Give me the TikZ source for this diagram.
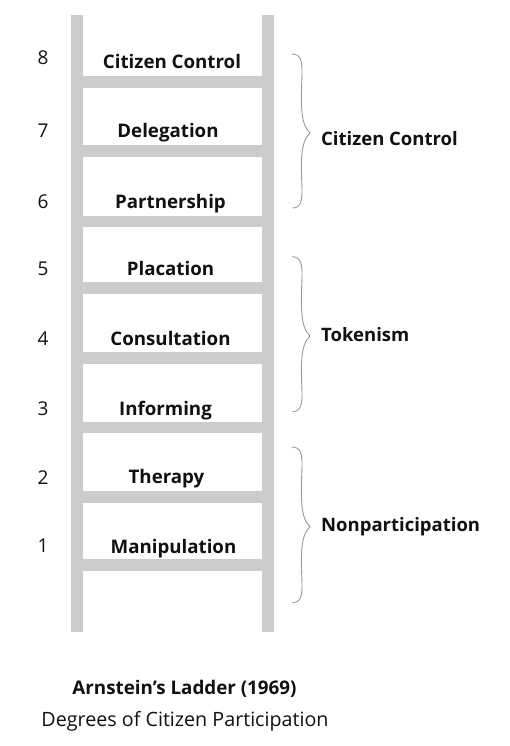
\documentclass[tikz,border=0pt]{standalone}
\usepackage{fontspec}
\setmainfont{Open Sans}
\definecolor{railgray}{HTML}{CCCCCC}
\definecolor{bracegray}{HTML}{9A9A9A}
\definecolor{textblack}{HTML}{111111}
\begin{document}
\begin{tikzpicture}[x=1pt,y=-1pt,
  rail/.style={fill=railgray, draw=none},
  steplabel/.style={anchor=base, font=\fontsize{18.7}{21}\selectfont\bfseries, text=textblack, inner sep=0pt},
  stepnum/.style={anchor=base, font=\fontsize{19}{21}\selectfont, text=textblack, inner sep=0pt},
  grouplabel/.style={anchor=base west, font=\fontsize{18.5}{21}\selectfont\bfseries, text=textblack, inner sep=0pt},
  bracestyle/.style={draw=bracegray, line width=0.9pt},
  titlestyle/.style={anchor=base, font=\fontsize{18.8}{21}\selectfont\bfseries, text=textblack, inner sep=0pt},
  subtitlestyle/.style={anchor=base, font=\fontsize{19.7}{22}\selectfont, text=textblack, inner sep=0pt}]
\fill[white] (0,0) rectangle (510,746);
\useasboundingbox (0,0) rectangle (510,746);
% rails
\fill[rail] (71,15.5) rectangle (83,632);
\fill[rail] (262,15.5) rectangle (274,632);
% rungs
\foreach \c in {82,151,221.5,288,358,427.5,497,565} {
  \fill[rail] (83,\c-5.8) rectangle (262,\c+5.8);
}
% step labels
\node[steplabel] (s8) at (172,69) {Citizen Control};
\node[steplabel] (s7) at (168,138) {Delegation};
\node[steplabel] (s6) at (170.5,208) {Partnership};
\node[steplabel] (s5) at (170.5,275) {Placation};
\node[steplabel] (s4) at (170.5,345.5) {Consultation};
\node[steplabel] (s3) at (165.5,415) {Informing};
\node[steplabel] (s2) at (166.5,483.5) {Therapy};
\node[steplabel] (s1) at (173.5,553) {Manipulation};
% numbers
\node[stepnum] (n8) at (43,65) {8};
\node[stepnum] (n7) at (43,138) {7};
\node[stepnum] (n6) at (43,208.5) {6};
\node[stepnum] (n5) at (43,275) {5};
\node[stepnum] (n4) at (43,345) {4};
\node[stepnum] (n3) at (43,415) {3};
\node[stepnum] (n2) at (43,484) {2};
\node[stepnum] (n1) at (43,552.5) {1};
% braces
\foreach \t/\m/\b in {54/133/208, 256.7/336/411.7, 447/526.7/602.7} {
  \draw[bracestyle] (292,\t) .. controls (300,\t) and (302.5,\t+6) .. (302,\t+20)
     .. controls (301,\m-30) and (300,\m-9) .. (310,\m)
     .. controls (300,\m+9) and (301,\m+30) .. (302,\b-20)
     .. controls (302.5,\b-6) and (300,\b) .. (292.5,\b);
}
% group labels
\node[grouplabel] (gcc) at (321,146) {Citizen Control};
\node[grouplabel] (gtk) at (321,341.5) {Tokenism};
\node[grouplabel] (gnp) at (321,531.5) {Nonparticipation};
% title
\node[titlestyle] (title) at (184.5,694) {Arnstein’s Ladder (1969)};
\node[subtitlestyle] (subtitle) at (185,726) {Degrees of Citizen Participation};
\end{tikzpicture}
\end{document}
